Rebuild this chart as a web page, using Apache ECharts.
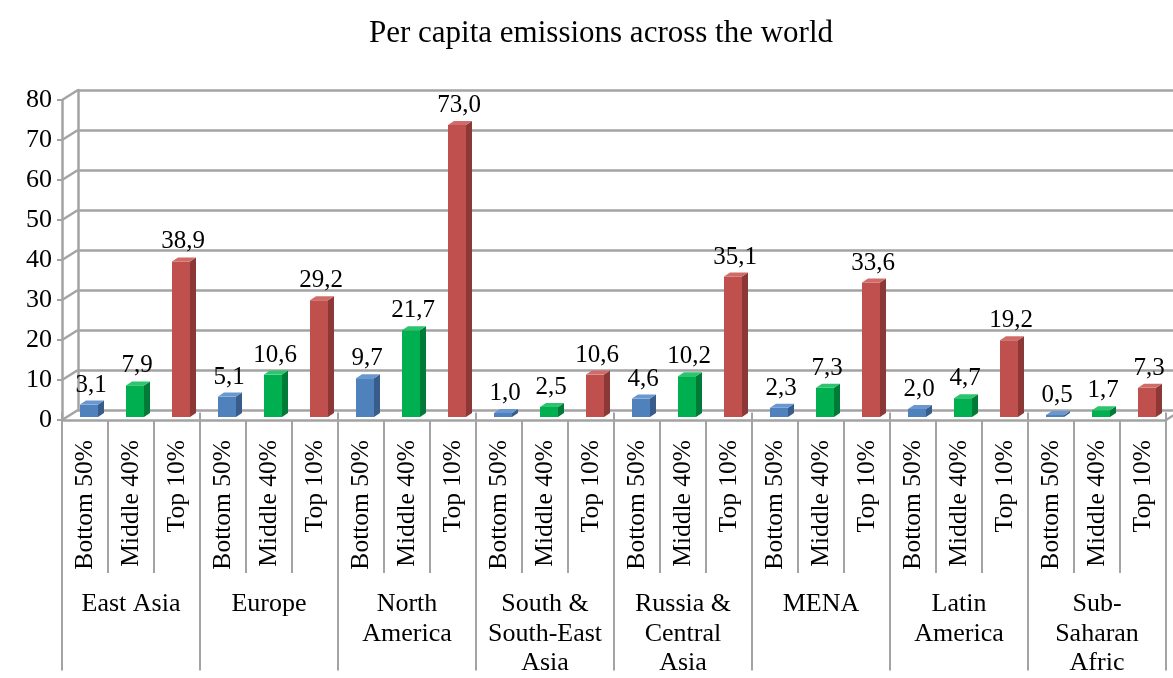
<!DOCTYPE html>
<html>
<head>
    <meta charset="utf-8">
    <title>Per capita emissions across the world</title>
    <script src="https://cdn.jsdelivr.net/npm/echarts@6/dist/echarts.min.js"></script>
    <style type="text/css">
        html, body {
            margin: 0;
            padding: 0;
            background: #ffffff;
        }
        #chart {
            width: 1173px;
            height: 678px;
        }
    </style>
</head>
<body>
<div id="chart"></div>
<script>
    // data
    var regions = ['East Asia', 'Europe', 'North\nAmerica', 'South &\nSouth-East\nAsia',
        'Russia &\nCentral\nAsia', 'MENA', 'Latin\nAmerica', 'Sub-\nSaharan\nAfric'];
    var groupNames = ['Bottom 50%', 'Middle 40%', 'Top 10%'];
    var bottom50 = [3.1, 5.1, 9.7, 1.0, 4.6, 2.3, 2.0, 0.5];
    var middle40 = [7.9, 10.6, 21.7, 2.5, 10.2, 7.3, 4.7, 1.7];
    var top10 = [38.9, 29.2, 73.0, 10.6, 35.1, 33.6, 19.2, 7.3];
    var yTicks = [0, 10, 20, 30, 40, 50, 60, 70, 80];

    var serif = '"Liberation Serif", "Times New Roman", serif';
    var lineGray = '#a3a3a3';
    // front, side, top colours for each group
    var faceColors = [
        ['#4f81bd', '#385d8a', '#6a97cf'],
        ['#00b050', '#007a37', '#2cc46c'],
        ['#c0504d', '#8c3836', '#cf6c69']
    ];

    // 24 sub categories + bar data [index, value, group]
    var subCats = [];
    var barData = [];
    var series3 = [bottom50, middle40, top10];
    for (var r = 0; r < regions.length; r++) {
        for (var g = 0; g < 3; g++) {
            subCats.push(groupNames[g]);
            barData.push([subCats.length - 1, series3[g][r], g]);
        }
    }

    var DX = 16, DY = -10;      // depth of the back wall
    var BX = 4, BY = -3;        // where bars stand on the floor
    var HALF = 9, SX = 6, SY = -4;

    function renderBar(params, api) {
        var i = api.value(0), v = api.value(1), g = api.value(2);
        var p0 = api.coord([i, 0]);
        var p1 = api.coord([i, v]);
        var cx = p0[0] + BX;
        var base = p0[1] + BY;
        var top = p1[1] + BY;
        var c = faceColors[g];
        var label = v.toFixed(1).replace('.', ',');
        return {
            type: 'group',
            children: [
                {
                    type: 'polygon',
                    shape: {points: [[cx + HALF, base], [cx + HALF + SX, base + SY], [cx + HALF + SX, top + SY], [cx + HALF, top]]},
                    style: {fill: c[1]}
                },
                {
                    type: 'rect',
                    shape: {x: cx - HALF, y: top, width: HALF * 2, height: base - top},
                    style: {fill: c[0]}
                },
                {
                    type: 'polygon',
                    shape: {points: [[cx - HALF, top], [cx + HALF, top], [cx + HALF + SX, top + SY], [cx - HALF + SX, top + SY]]},
                    style: {fill: c[2]}
                },
                {
                    type: 'text',
                    style: {
                        text: label,
                        x: cx + 2,
                        y: top + SY - 3,
                        textAlign: 'center',
                        textVerticalAlign: 'bottom',
                        font: '25px ' + serif,
                        fill: '#000'
                    }
                }
            ]
        };
    }

    // diagonal lines from the front axis to the back wall
    function renderDiag(params, api) {
        var v = api.value(0);
        var half = api.size([1, 0])[0] / 2;
        var p = api.coord([0, v]);
        var x0 = p[0] - half;
        var lines = [{
            type: 'line',
            shape: {x1: x0, y1: p[1], x2: x0 + DX, y2: p[1] + DY},
            style: {stroke: lineGray, lineWidth: 2.5}
        }];
        if (v === 0) {
            var pe = api.coord([subCats.length - 1, 0]);
            lines.push({
                type: 'line',
                shape: {x1: pe[0] + half, y1: pe[1], x2: pe[0] + half + DX, y2: pe[1] + DY},
                style: {stroke: lineGray, lineWidth: 2.5}
            });
        }
        return {type: 'group', children: lines};
    }

    var chart = echarts.init(document.getElementById('chart'));
    var option = {
        animation: false,
        backgroundColor: '#ffffff',
        title: {
            text: 'Per capita emissions across the world',
            left: 364,
            top: 13,
            textStyle: {fontFamily: serif, fontSize: 31, fontWeight: 'normal', color: '#000'}
        },
        grid: [
            {left: 62, right: 7, top: 100, bottom: 258},
            {left: 62 + DX, right: 0, top: 100 + DY, bottom: 258 - DY},
            {left: 62, right: 7, top: 100, bottom: 258}
        ],
        xAxis: [
            {
                type: 'category', gridIndex: 0, data: subCats,
                axisLine: {show: true, lineStyle: {color: lineGray, width: 2.5}},
                axisTick: {show: true, interval: 0, length: 153, lineStyle: {color: lineGray, width: 2}},
                axisLabel: {
                    interval: 0, rotate: 90, margin: 20,
                    fontFamily: serif, fontSize: 25.5, color: '#000'
                }
            },
            {type: 'category', gridIndex: 1, data: subCats, show: false},
            {
                type: 'category', gridIndex: 2, data: regions, position: 'bottom',
                axisLine: {show: false},
                axisTick: {show: true, interval: 0, length: 258, lineStyle: {color: lineGray, width: 2}},
                axisLabel: {
                    interval: 0, margin: 177, verticalAlign: 'top',
                    fontFamily: serif, fontSize: 26, lineHeight: 29.5, color: '#000'
                }
            }
        ],
        yAxis: [
            {
                type: 'value', gridIndex: 0, min: 0, max: 80, interval: 10,
                axisLine: {show: true, lineStyle: {color: lineGray, width: 2.5}},
                axisTick: {show: true, length: 5, lineStyle: {color: lineGray, width: 2}},
                splitLine: {show: false},
                axisLabel: {margin: 10, fontFamily: serif, fontSize: 26, color: '#000'}
            },
            {
                type: 'value', gridIndex: 1, min: 0, max: 80, interval: 10,
                axisLine: {show: true, lineStyle: {color: lineGray, width: 2.5}},
                axisTick: {show: false},
                axisLabel: {show: false},
                splitLine: {show: true, lineStyle: {color: lineGray, width: 2.5}}
            },
            {type: 'value', gridIndex: 2, min: 0, max: 80, show: false}
        ],
        series: [
            {
                type: 'custom', xAxisIndex: 0, yAxisIndex: 0,
                renderItem: renderDiag,
                data: yTicks.map(function (t) { return [t]; }),
                encode: {y: 0},
                silent: true,
                z: 1
            },
            {
                type: 'custom', xAxisIndex: 0, yAxisIndex: 0,
                renderItem: renderBar,
                data: barData,
                encode: {x: 0, y: 1},
                z: 3
            }
        ]
    };
    chart.setOption(option);
</script>
</body>
</html>
